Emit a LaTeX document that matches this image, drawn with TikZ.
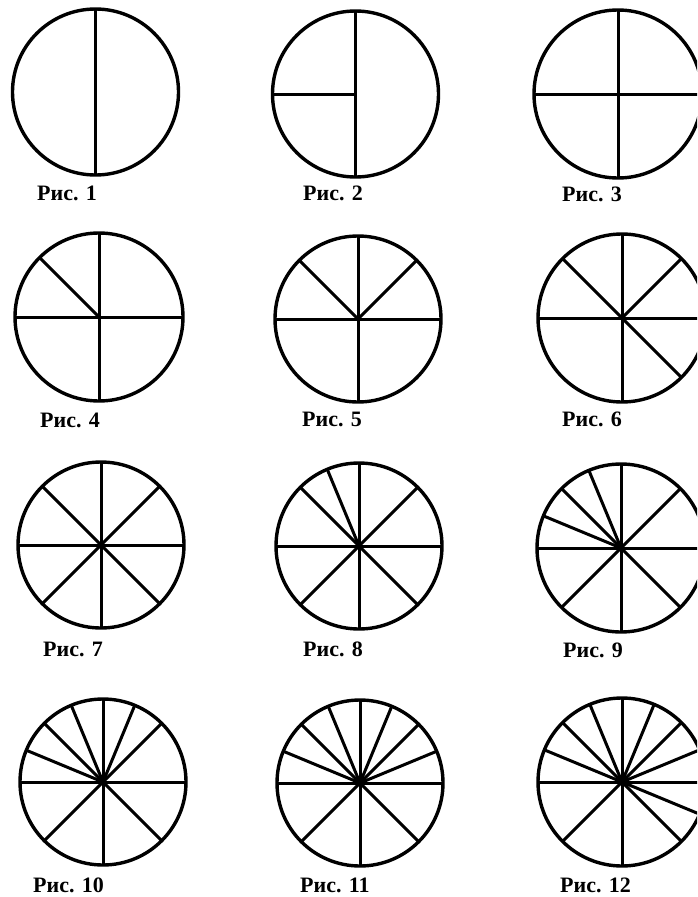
\documentclass[tikz,border=0pt]{standalone}
\usepackage{fontspec}
\setmainfont{Liberation Serif}
\tikzset{
  rim/.style={line width=3.4pt},
  spoke/.style={line width=3pt},
  lbl/.style={font=\bfseries\fontsize{22}{22}\selectfont, anchor=base west, inner sep=0pt}
}
\newcommand\mywheel[5]{%
  \coordinate (#1) at (#2,#3);
  \draw[rim] (#1) circle[radius=#4];
  \foreach \a in {#5} \draw[spoke] (#1) -- ++({-\a}:#4);
}
\begin{document}
\begin{tikzpicture}[x=1pt,y=-1pt]
\useasboundingbox (0,0) rectangle (697,897);
\clip (0,0) rectangle (697,897);
\fill[white] (0,0) rectangle (697,897);
% row 1
\mywheel{c1}{95.5}{92}{83}{90,270}
\mywheel{c2}{355.5}{94}{83}{90,270,180}
\mywheel{c3}{618}{94}{84}{0,90,180,270}
% row 2
\mywheel{c4}{99}{317}{84}{0,90,180,270,135}
\mywheel{c5}{358}{319}{83}{0,45,90,135,180,270}
\mywheel{c6}{622}{318}{84}{0,45,90,135,180,270,315}
% row 3
\mywheel{c7}{101}{545}{83}{0,45,90,135,180,225,270,315}
\mywheel{c8}{359}{546}{83}{0,45,90,112.5,135,180,225,270,315}
\mywheel{c9}{621}{548}{84}{0,45,90,112.5,135,157.5,180,225,270,315}
% row 4
\mywheel{c10}{103}{782}{83}{0,45,67.5,90,112.5,135,157.5,180,225,270,315}
\mywheel{c11}{360}{783}{83}{0,22.5,45,67.5,90,112.5,135,157.5,180,225,270,315}
\mywheel{c12}{622}{782}{84}{0,22.5,45,67.5,90,112.5,135,157.5,180,225,270,315,337.5}
% labels
\node[lbl] (l1) at (37,200) {Рис. 1};
\node[lbl] (l2) at (303,200) {Рис. 2};
\node[lbl] (l3) at (562,201) {Рис. 3};
\node[lbl] (l4) at (40,427) {Рис. 4};
\node[lbl] (l5) at (302,426) {Рис. 5};
\node[lbl] (l6) at (562,426) {Рис. 6};
\node[lbl] (l7) at (43,656) {Рис. 7};
\node[lbl] (l8) at (303,656) {Рис. 8};
\node[lbl] (l9) at (563,657) {Рис. 9};
\node[lbl] (l10) at (33,892) {Рис. 10};
\node[lbl] (l11) at (300,892) {Рис. 11};
\node[lbl] (l12) at (560,892) {Рис. 12};
\end{tikzpicture}
\end{document}
